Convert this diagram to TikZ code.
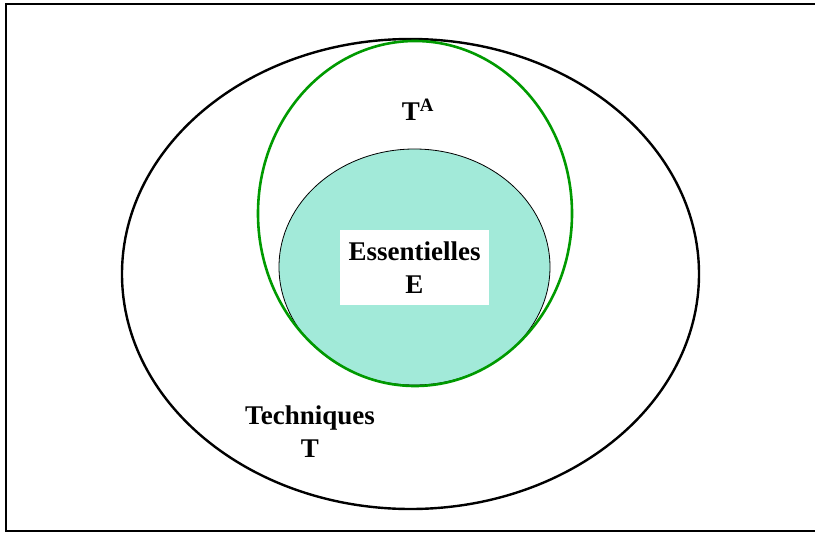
\documentclass[tikz,border=0pt]{standalone}
\usepackage{fontspec}
\setmainfont{Liberation Serif}
\usetikzlibrary{positioning,shapes.geometric}
\definecolor{cgreen}{HTML}{009A00}
\definecolor{cteal}{HTML}{A2EAD9}
\tikzset{
  setT/.style={ellipse, draw=black, line width=2.4pt, inner sep=0pt},
  setTA/.style={ellipse, draw=cgreen, line width=2.6pt, inner sep=0pt},
  setE/.style={ellipse, draw=black, fill=cteal, line width=0.8pt, inner sep=0pt},
  lbl/.style={font=\bfseries\fontsize{27}{33}\selectfont, align=center, inner sep=0pt},
  lblbox/.style={lbl, fill=white, minimum width=149pt, minimum height=75pt}
}
\begin{document}
\begin{tikzpicture}[x=1pt,y=-1pt]
\useasboundingbox (0,0) rectangle (815,533);
\draw[line width=1.8pt] (830,4) -- (6,4) -- (6,531) -- (830,531);
\node[setT, minimum width=577pt, minimum height=470pt] (tech) at (410.5,274) {};
\node[setE, minimum width=271pt, minimum height=236pt] (ess) at (414.5,267) {};
\node[setTA, minimum width=314pt, minimum height=345pt] (ta) at (415,213.5) {};
\node[lblbox] (esslbl) at (414.5,267.5) {Essentielles\\E};
\node[lbl] (talbl) at (418,110) {T\textsuperscript{A}};
\node[lbl] (techlbl) at (310,432) {Techniques\\T};
\end{tikzpicture}
\end{document}
